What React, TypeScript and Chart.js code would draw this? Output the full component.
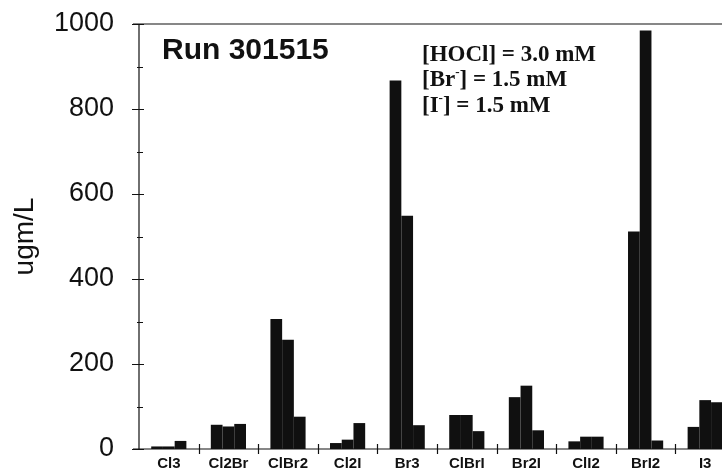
import React, { useEffect, useRef } from "react";
import { Chart, registerables } from "chart.js";

Chart.register(...registerables);

const categories = ["Cl3", "Cl2Br", "ClBr2", "Cl2I", "Br3", "ClBrI", "Br2I", "ClI2", "BrI2", "I3"];
const series1 = [6, 57, 306, 14, 867, 80, 122, 18, 512, 52];
const series2 = [6, 53, 257, 22, 549, 80, 149, 29, 985, 115];
const series3 = [19, 59, 76, 61, 56, 42, 44, 29, 20, 110];
const yMax = 1000;
const yMajorStep = 200;
const yMinorStep = 100;
const yTitle = "ugm/L";
const runLabel = "Run 301515";
const conditions: [string, string, string][] = [
  ["[HOCl]", "", " = 3.0 mM"],
  ["[Br", "-", "] = 1.5 mM"],
  ["[I", "-", "] = 1.5 mM"],
];

const SANS = "'Liberation Sans', Arial, sans-serif";
const SERIF = "'Liberation Serif', 'Times New Roman', serif";

const decorPlugin = {
  id: "decor",
  afterDraw(chart: any) {
    const { ctx, chartArea, scales } = chart;
    const y = scales.y;
    const x = scales.x;
    const left = chartArea.left;
    const top = y.getPixelForValue(yMax);
    const bottom = y.getPixelForValue(0);
    ctx.save();
    ctx.strokeStyle = "#111";
    ctx.lineWidth = 1.2;
    // axes
    ctx.beginPath();
    ctx.moveTo(left, top);
    ctx.lineTo(left, bottom);
    ctx.moveTo(left - 6, top);
    ctx.lineTo(chartArea.right + 10, top);
    ctx.moveTo(left - 6, bottom);
    ctx.lineTo(chartArea.right + 10, bottom);
    ctx.stroke();
    // y ticks
    ctx.beginPath();
    for (let v = 0; v <= yMax; v += yMinorStep) {
      const py = Math.round(y.getPixelForValue(v)) + 0.5;
      if (v % yMajorStep === 0) {
        ctx.moveTo(left - 7, py);
        ctx.lineTo(left + 5, py);
      } else {
        ctx.moveTo(left - 2, py);
        ctx.lineTo(left + 4, py);
      }
    }
    ctx.stroke();
    // x category separators
    const half = (x.getPixelForValue(1) - x.getPixelForValue(0)) / 2;
    ctx.beginPath();
    for (let i = 1; i < categories.length; i++) {
      const px = Math.round(x.getPixelForValue(i) - half) + 0.5;
      ctx.moveTo(px, bottom - 5);
      ctx.lineTo(px, bottom + 5);
    }
    ctx.stroke();
    // texts
    ctx.fillStyle = "#111";
    ctx.textBaseline = "middle";
    ctx.textAlign = "left";
    ctx.font = `bold 30px ${SANS}`;
    ctx.fillText(runLabel, left + 23, top + 27);
    const tx = left + 283;
    const lineYs = [top + 31, top + 56, top + 82];
    conditions.forEach((parts, i) => {
      let cx = tx;
      const cy = lineYs[i];
      ctx.font = `bold 23px ${SERIF}`;
      ctx.fillText(parts[0], cx, cy);
      cx += ctx.measureText(parts[0]).width;
      if (parts[1]) {
        ctx.font = `bold 13px ${SERIF}`;
        ctx.fillText(parts[1], cx, cy - 7);
        cx += ctx.measureText(parts[1]).width;
      }
      ctx.font = `bold 23px ${SERIF}`;
      ctx.fillText(parts[2], cx, cy);
    });
    ctx.restore();
  },
};

export default function App() {
  const canvasRef = useRef<HTMLCanvasElement | null>(null);

  useEffect(() => {
    const canvas = canvasRef.current;
    if (!canvas) return;
    const barColor = "#101010";
    const chart = new Chart(canvas, {
      type: "bar",
      data: {
        labels: categories,
        datasets: [
          { data: series1, backgroundColor: barColor, borderWidth: 0 },
          { data: series2, backgroundColor: barColor, borderWidth: 0 },
          { data: series3, backgroundColor: barColor, borderWidth: 0 },
        ],
      },
      options: {
        animation: false,
        responsive: false,
        devicePixelRatio: 1,
        layout: { padding: { top: 24, right: 5, left: 0, bottom: 0 } },
        plugins: {
          legend: { display: false },
          tooltip: { enabled: false },
        },
        datasets: {
          bar: { barPercentage: 1, categoryPercentage: 0.59 },
        },
        scales: {
          x: {
            type: "category",
            offset: true,
            grid: { display: false, drawTicks: false },
            border: { display: false },
            ticks: {
              autoSkip: false,
              maxRotation: 0,
              padding: 6,
              color: "#111",
              font: { family: SANS, size: 15, weight: "bold" },
            },
            afterFit(scale: any) {
              scale.height = 25;
              scale.paddingLeft = 0;
              scale.paddingRight = 0;
            },
          },
          y: {
            min: 0,
            max: yMax,
            grid: { display: false, drawTicks: false },
            border: { display: false },
            ticks: {
              stepSize: yMajorStep,
              padding: 25,
              color: "#111",
              font: { family: SANS, size: 27 },
              callback: (v: any) => String(v),
            },
            title: {
              display: true,
              text: yTitle,
              color: "#111",
              font: { family: SANS, size: 28 },
              padding: { top: 8, bottom: 0 },
            },
            afterFit(scale: any) {
              scale.width = 139;
              scale.paddingTop = 0;
              scale.paddingBottom = 0;
            },
          },
        },
      },
      plugins: [decorPlugin],
    } as any);
    return () => chart.destroy();
  }, []);

  return (
    <div
      style={{
        position: "fixed",
        left: 0,
        top: 0,
        width: 722,
        height: 474,
        overflow: "hidden",
        background: "#fff",
      }}
    >
      <canvas ref={canvasRef} width={740} height={474} style={{ width: 740, height: 474, display: "block" }} />
    </div>
  );
}
